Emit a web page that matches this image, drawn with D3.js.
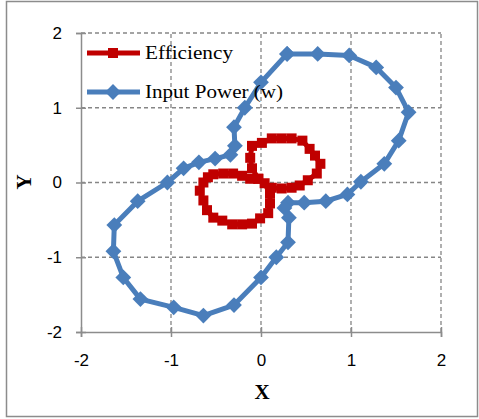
<!DOCTYPE html>
<meta charset="utf-8">
<html>
<body style="margin:0;background:#fff">
<div id="chart"></div>
<script src="https://d3js.org/d3.v7.min.js"></script>
<script>
// values
var xTicks = [-2, -1, 0, 1, 2];
var yTicks = [-2, -1, 0, 1, 2];

var effX = [-0.03, -0.10, -0.12, -0.10, 0.01, 0.12, 0.23, 0.34, 0.46, 0.54, 0.60, 0.66, 0.62, 0.52, 0.43, 0.34, 0.23, 0.12, 0.04,
            0.10, 0.10, 0.08, -0.01, -0.10, -0.21, -0.32, -0.43, -0.53, -0.60, -0.64, -0.68, -0.64, -0.59, -0.53, -0.42, -0.31, -0.21, -0.12, -0.03];
var effY = [0.05, 0.19, 0.33, 0.49, 0.53, 0.59, 0.59, 0.59, 0.56, 0.45, 0.36, 0.25, 0.12, 0.03, -0.04, -0.07, -0.08, -0.07, -0.01,
            -0.15, -0.28, -0.41, -0.48, -0.55, -0.56, -0.56, -0.51, -0.47, -0.37, -0.24, -0.11, 0.00, 0.07, 0.11, 0.12, 0.12, 0.09, 0.05, 0.05];

var powX = [0.29, 0.63, 0.98, 1.28, 1.50, 1.64, 1.53, 1.37, 1.11, 0.96, 0.72, 0.48, 0.30, 0.26, 0.31, 0.30, 0.17, 0.00,
            -0.30, -0.64, -0.97, -1.34, -1.53, -1.64, -1.63, -1.37, -1.04, -0.86, -0.69, -0.51, -0.34, -0.29, -0.30, -0.18, 0.00, 0.29];
var powY = [1.72, 1.72, 1.70, 1.54, 1.27, 0.94, 0.56, 0.25, 0.01, -0.16, -0.25, -0.27, -0.27, -0.34, -0.47, -0.80, -1.00, -1.27,
            -1.64, -1.78, -1.67, -1.56, -1.27, -0.92, -0.57, -0.25, 0.00, 0.19, 0.27, 0.32, 0.37, 0.49, 0.74, 1.00, 1.34, 1.72];

var seriesNames = ["Efficiency", "Input Power (w)"];

var W = 479, H = 419;
var svg = d3.select("#chart").append("svg").attr("width", W).attr("height", H);

// chart border
svg.append("rect").attr("x", 6.5).attr("y", 1.5).attr("width", 471).attr("height", 415)
  .attr("fill", "none").attr("stroke", "#8c8c8c").attr("stroke-width", 1.5);

var x = d3.scaleLinear().domain([-2, 2]).range([81, 441]);
var y = d3.scaleLinear().domain([-2, 2]).range([332, 33]);

var grid = "#868686";

// dashed gridlines
svg.append("g").selectAll("line").data(xTicks.slice(1)).join("line")
  .attr("x1", d => x(d)).attr("x2", d => x(d)).attr("y1", y(-2)).attr("y2", y(2))
  .attr("stroke", grid).attr("stroke-width", 1.3).attr("stroke-dasharray", "4,3");
svg.append("g").selectAll("line").data(yTicks.slice(1)).join("line")
  .attr("x1", x(-2)).attr("x2", x(2)).attr("y1", d => y(d)).attr("y2", d => y(d))
  .attr("stroke", grid).attr("stroke-width", 1.3).attr("stroke-dasharray", "4,3");

// axes
var fmt = d => String(d);
var xAxis = svg.append("g").attr("transform", "translate(0," + y(-2) + ")")
  .call(d3.axisBottom(x).tickValues(xTicks).tickSize(5).tickPadding(17).tickFormat(fmt));
var yAxis = svg.append("g").attr("transform", "translate(" + x(-2) + ",0)")
  .call(d3.axisLeft(y).tickValues(yTicks).tickSize(5).tickPadding(14).tickFormat(fmt));

[xAxis, yAxis].forEach(function (a) {
  a.select(".domain").attr("stroke", "#8c8c8c").attr("stroke-width", 1.5);
  a.selectAll(".tick line").attr("stroke", "#8c8c8c").attr("stroke-width", 1.5);
  a.selectAll(".tick text").attr("fill", "#000")
    .style("font-family", "'Liberation Sans', Arial, sans-serif").style("font-size", "17px");
});
xAxis.selectAll(".tick line").attr("y1", -5);
yAxis.selectAll(".tick line").attr("x1", 5);

// axis titles
svg.append("text").attr("x", 262).attr("y", 399).attr("text-anchor", "middle")
  .style("font-family", "'Liberation Serif', serif").style("font-weight", "bold").style("font-size", "21px")
  .text("X");
svg.append("text").attr("transform", "translate(31,182) rotate(-90)").attr("text-anchor", "middle")
  .style("font-family", "'Liberation Serif', serif").style("font-weight", "bold").style("font-size", "21px")
  .text("Y");

var red = "#c00000", blue = "#4a7ebb";

var line = d3.line().x(d => x(d[0])).y(d => y(d[1]));
var effData = effX.map((v, i) => [v, effY[i]]);
var powData = powX.map((v, i) => [v, powY[i]]);
var diamond = d3.symbol().type(d3.symbolSquare).size(125);

// Efficiency
svg.append("path").datum(effData).attr("d", line)
  .attr("fill", "none").attr("stroke", red).attr("stroke-width", 5).attr("stroke-linejoin", "round");
svg.append("g").selectAll("rect").data(effData).join("rect")
  .attr("x", d => x(d[0]) - 5).attr("y", d => y(d[1]) - 5)
  .attr("width", 10).attr("height", 10).attr("fill", red);

// Input Power
svg.append("path").datum(powData).attr("d", line)
  .attr("fill", "none").attr("stroke", blue).attr("stroke-width", 5).attr("stroke-linejoin", "round");
svg.append("g").selectAll("path").data(powData).join("path")
  .attr("d", diamond).attr("fill", blue)
  .attr("transform", d => "translate(" + x(d[0]) + "," + y(d[1]) + ") rotate(45)");

// legend
var legendWidths = [88, 138];
var legend = svg.append("g");
[red, blue].forEach(function (c, i) {
  var ly = 53 + i * 39;
  legend.append("line").attr("x1", 87).attr("x2", 140).attr("y1", ly).attr("y2", ly)
    .attr("stroke", c).attr("stroke-width", 5);
  if (i === 0) {
    legend.append("rect").attr("x", 113 - 5).attr("y", ly - 5).attr("width", 10).attr("height", 10).attr("fill", c);
  } else {
    legend.append("path").attr("d", diamond)
      .attr("transform", "translate(113," + ly + ") rotate(45)").attr("fill", c);
  }
  legend.append("text").attr("x", 145).attr("y", ly + 6)
    .attr("textLength", legendWidths[i]).attr("lengthAdjust", "spacingAndGlyphs")
    .style("font-family", "'Liberation Serif', serif").style("font-size", "19px")
    .text(seriesNames[i]);
});
</script>
</body>
</html>
